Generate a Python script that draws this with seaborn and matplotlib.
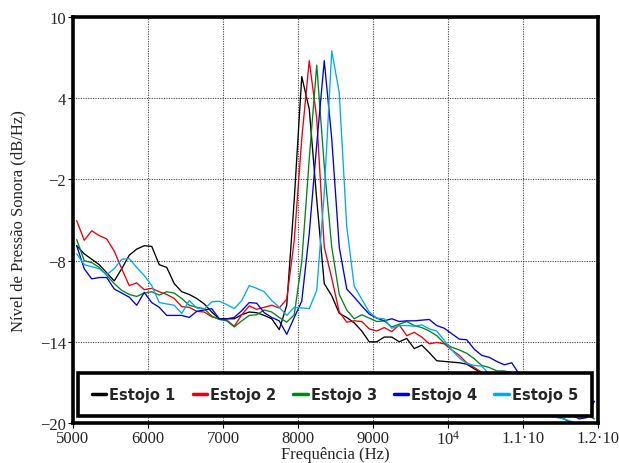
import numpy as np
import pandas as pd
import seaborn as sns
import matplotlib.pyplot as plt
from matplotlib.lines import Line2D

# frequency bins (Hz), 100 Hz spacing
freq = np.arange(5050, 12000, 100)

# sound pressure level (dB/Hz), one list per case
estojo_1 = [-6.9, -7.5, -7.9, -8.3, -8.9, -9.5, -8.6, -7.6, -7.15, -6.9,
            -6.95, -8.3, -8.5, -9.7, -10.3, -10.5, -10.8, -11.2, -11.8, -12.3,
            -12.3, -12.3, -12.0, -11.8, -11.85, -12.05, -12.3, -13.1, -11.3, -3.5,
            5.6, 3.2, -3.5, -9.7, -10.6, -11.9, -12.2, -12.6, -13.2, -14.0,
            -14.0, -13.65, -13.65, -14.0, -13.75, -14.5, -14.25, -14.8, -15.4, -15.45,
            -15.5, -15.55, -15.65, -16.0, -16.3, -16.6, -16.9, -17.2, -17.5, -17.8,
            -18.1, -18.4, -18.8, -19.2, -19.5, -19.7, -20.0, -20.3, -20.6, -20.8]
estojo_2 = [-5.05, -6.5, -5.8, -6.15, -6.4, -7.3, -8.6, -9.85, -9.65, -10.15,
            -10.05, -10.3, -10.5, -10.8, -11.4, -11.45, -11.75, -11.8, -12.15, -12.3,
            -12.4, -12.85, -12.0, -11.35, -11.6, -11.45, -11.3, -11.5, -10.85, -6.5,
            1.0, 6.77, 2.5, -7.0, -9.3, -11.8, -12.55, -12.45, -12.5, -13.05,
            -13.2, -12.95, -13.25, -12.75, -13.55, -13.3, -13.65, -14.15, -14.05, -14.15,
            -14.6, -15.0, -15.55, -15.9, -16.25, -16.6, -16.9, -17.2, -17.5, -17.7,
            -17.9, -18.1, -18.2, -18.3, -18.4, -18.4, -18.5, -18.5, -18.45, -18.4]
estojo_3 = [-6.45, -8.0, -8.15, -8.5, -9.1, -9.7, -10.2, -10.5, -10.65, -10.4,
            -10.3, -10.55, -10.3, -10.4, -10.8, -11.3, -11.45, -11.55, -12.1, -12.35,
            -12.45, -12.9, -12.45, -12.05, -12.0, -11.65, -11.8, -12.2, -12.55, -12.0,
            -8.1, -0.5, 6.45, -1.0, -7.0, -10.5, -11.65, -12.3, -12.0, -12.25,
            -12.5, -12.45, -12.9, -12.7, -12.5, -12.8, -12.95, -13.2, -13.55, -14.1,
            -14.4, -14.6, -14.85, -15.25, -15.75, -15.9, -16.15, -16.15, -16.3, -16.6,
            -16.9, -17.2, -17.5, -17.8, -18.1, -18.4, -18.7, -19.0, -19.4, -19.7]
estojo_4 = [-6.9, -8.6, -9.35, -9.25, -9.25, -10.1, -10.4, -10.7, -11.3, -10.35,
            -11.1, -11.45, -12.05, -12.05, -12.05, -12.2, -11.75, -11.65, -11.55, -12.3,
            -12.3, -12.2, -11.7, -11.1, -11.15, -11.85, -12.2, -12.45, -13.45, -12.2,
            -11.0, -6.0, 0.6, 6.77, 1.0, -7.0, -10.1, -10.7, -11.35, -11.95,
            -12.25, -12.45, -12.3, -12.5, -12.45, -12.45, -12.4, -12.35, -12.8, -13.0,
            -13.4, -13.8, -13.85, -14.55, -15.0, -15.15, -15.45, -15.7, -15.55, -16.4,
            -16.9, -17.4, -17.8, -18.2, -18.6, -19.0, -19.4, -19.7, -19.6, -18.4]
estojo_5 = [-7.5, -8.3, -8.45, -8.6, -9.05, -8.6, -7.9, -7.85, -8.5, -9.1,
            -9.85, -11.1, -11.2, -11.3, -11.9, -10.95, -11.5, -11.6, -11.05, -11.0,
            -11.25, -11.55, -10.95, -9.85, -10.05, -10.3, -10.95, -11.45, -12.05, -11.45,
            -11.5, -11.55, -10.2, -3.0, 7.5, 4.4, -5.5, -9.9, -10.85, -11.8,
            -12.25, -12.3, -13.0, -12.8, -12.8, -12.85, -12.75, -13.05, -13.2, -13.9,
            -14.6, -15.2, -15.6, -15.75, -15.8, -16.4, -16.8, -17.2, -17.6, -18.0,
            -18.4, -18.8, -19.2, -19.5, -19.6, -19.7, -19.9, -20.2, -20.4, -20.5]

names = ['Estojo 1', 'Estojo 2', 'Estojo 3', 'Estojo 4', 'Estojo 5']
colors = ['#000000', '#e8000b', '#00851a', '#0000dd', '#00aaee']
x_ticks = [5000, 6000, 7000, 8000, 9000, 10000, 11000, 12000]
x_ticklabels = ['5000', '6000', '7000', '8000', '9000',
                r'$\mathregular{10^4}$', '1.1·10', '1.2·10']
y_ticks = [-20, -14, -8, -2, 4, 10]

all_series = [estojo_1, estojo_2, estojo_3, estojo_4, estojo_5]
df = pd.DataFrame({
    'freq': np.tile(freq, len(names)),
    'nivel': np.concatenate(all_series),
    'estojo': np.repeat(names, len(freq)),
})

sns.set_style('white')
plt.rcParams['font.family'] = ['Liberation Serif', 'DejaVu Serif']
plt.rcParams['mathtext.default'] = 'regular'

fig = plt.figure(figsize=(6.19, 4.64), dpi=100)
ax = fig.add_axes([0.1179, 0.0862, 0.8482, 0.875])

sns.lineplot(data=df, x='freq', y='nivel', hue='estojo',
             palette=dict(zip(names, colors)), estimator=None,
             linewidth=0.95, legend=False, ax=ax)

ax.set_xlim(5000, 12000)
ax.set_ylim(-20, 10)
ax.set_xticks(x_ticks)
ax.set_xticklabels(x_ticklabels)
ax.set_yticks(y_ticks)
ax.tick_params(axis='both', which='major', labelsize=12, direction='out',
               length=3.5, width=0.8, color='black', pad=1.5,
               bottom=True, left=True)
ax.grid(True, linestyle=(0, (1, 1.2)), color='#444444', linewidth=0.8)
for sp in ax.spines.values():
    sp.set_linewidth(2.6)
    sp.set_color('black')

ax.set_xlabel('Frequência (Hz)', fontsize=12, labelpad=-1.5)
ax.set_ylabel('Nível de Pressão Sonora (dB/Hz)', fontsize=12, labelpad=10)

# legend across the bottom of the plot area
handles = [Line2D([], [], color=c, linewidth=2.5) for c in colors]
leg = ax.legend(handles, names, ncol=5, loc='lower left',
                bbox_to_anchor=(0.0095, 0.018, 0.979, 0.1), mode='expand',
                borderaxespad=0, borderpad=0.95, handlelength=1.0,
                handletextpad=0.2, fancybox=False, framealpha=1,
                edgecolor='black',
                prop={'family': 'DejaVu Sans', 'weight': 'bold', 'size': 10.5})
leg.get_frame().set_linewidth(2.6)

fig.savefig('out.png', dpi=100)
